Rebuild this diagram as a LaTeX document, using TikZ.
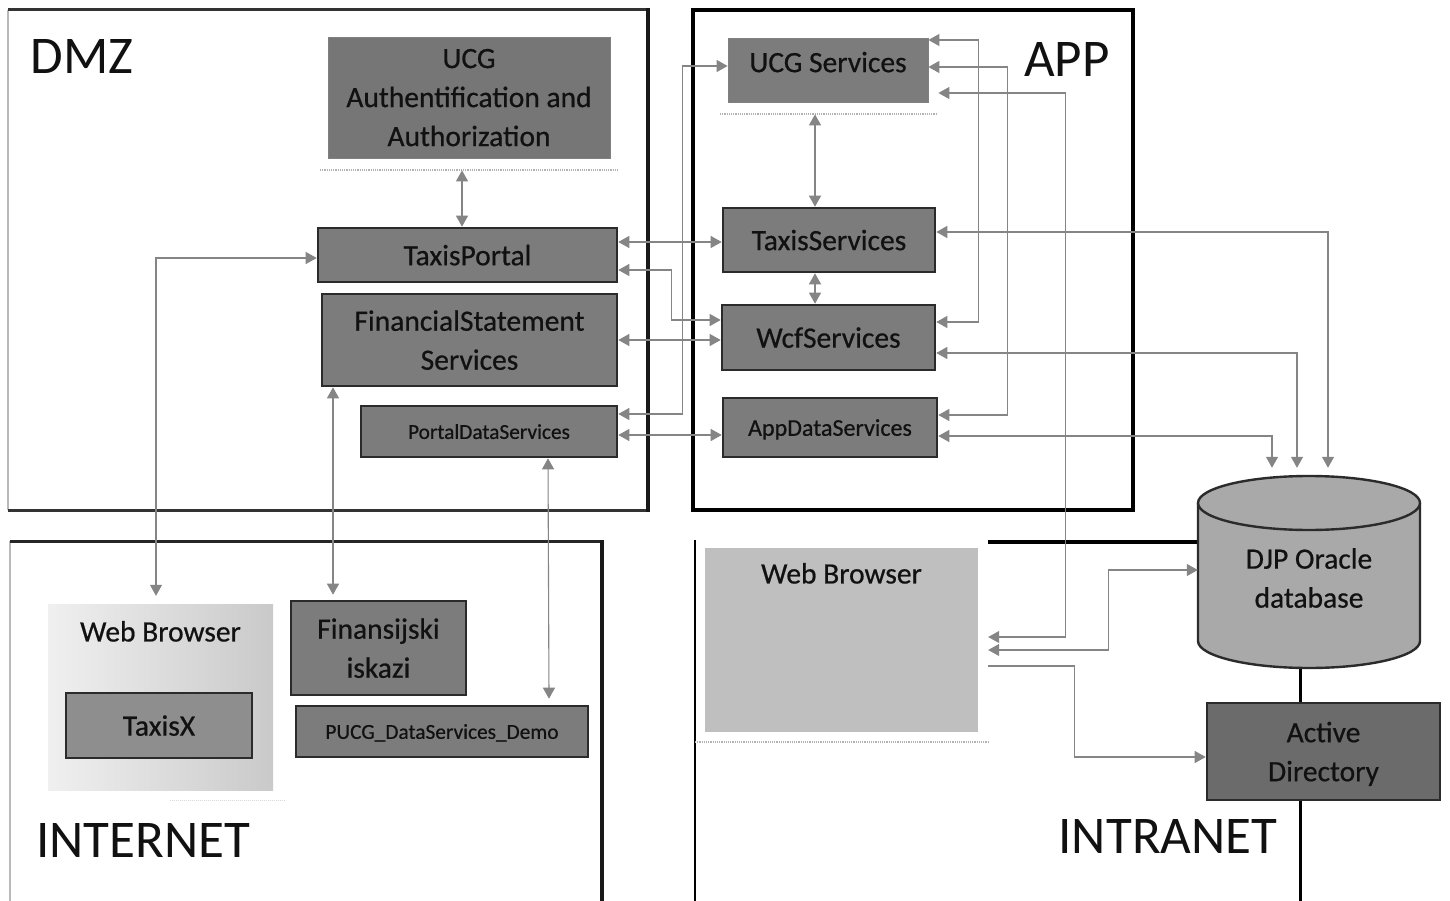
\documentclass[tikz,border=0pt]{standalone}
\usepackage{fontspec}
\setmainfont{Carlito}
\newfontfamily\boxfont{Carlito}[FakeBold=0.6]
\usetikzlibrary{arrows.meta}
\definecolor{boxfill}{HTML}{7C7C7C}
\definecolor{boxline}{HTML}{2B2B2B}
\definecolor{connc}{HTML}{858585}
\definecolor{adfill}{HTML}{6B6B6B}
\definecolor{dbfill}{HTML}{A9A9A9}
\definecolor{wbfill}{HTML}{BFBFBF}
\definecolor{txfill}{HTML}{8E8E8E}
\definecolor{txt}{HTML}{111111}
\begin{document}
\begin{tikzpicture}[x=1pt,y=-1pt,
 box/.style={draw=boxline, line width=2.6pt, fill=boxfill, inner sep=0pt, align=center, text=txt, text depth=0pt, font=\boxfont\fontsize{29.5}{39}\selectfont},
 thinbox/.style={box, line width=0.8pt, draw=boxline!60},
 small/.style={font=\boxfont\fontsize{21.3}{25}\selectfont},
 zone/.style={font=\fontsize{53}{60}\selectfont, text=txt, inner sep=0pt},
 wire/.style={draw=connc, line width=1.1pt},
 both/.style={wire, {Triangle[width=12pt,length=11pt]}-{Triangle[width=12pt,length=11pt]}},
 one/.style={wire, -{Triangle[width=12pt,length=11pt]}},
 sep/.style={draw=gray!60, line width=1.2pt, densely dotted},
 lab/.style={font=\boxfont\fontsize{29.5}{39}\selectfont, text=txt, inner sep=0pt, anchor=north}
]
\useasboundingbox (0,0) rectangle (1450,901);
\fill[white] (0,0) rectangle (1450,901);

% zones
\draw[line width=2pt, gray!55] (8,10) -- (8,510);
\draw[line width=3pt, black!80] (8,10) -- (648,10);
\draw[line width=3pt, black!80] (8,510) -- (648,510);
\draw[line width=3.8pt, black!90] (648,8.5) -- (648,511.5);
\draw[line width=3.8pt, black] (693,10) rectangle (1133,510);
\draw[line width=2pt, gray!55] (10,541) -- (10,901);
\draw[line width=3pt, black!85] (10,541) -- (602,541);
\draw[line width=3.5pt, black!90] (602,539.5) -- (602,901);
\draw[line width=2.8pt, black] (695,540) -- (695,901);
\draw[line width=4pt, black] (988,542) -- (1200,542);
\draw[line width=3pt, black] (1300,668) -- (1300,703);
\draw[line width=3pt, black] (1300,800) -- (1300,901);

\node[zone] (dmzl) at (82,57) {DMZ};
\node[zone] (appl) at (1067,60) {APP};
\node[zone] (inetl) at (143,840) {INTERNET};
\node[zone] (intrl) at (1168,836) {INTRANET};

% separators
\draw[sep] (320,170) -- (618,170);
\draw[sep] (720,114) -- (937,114);
\draw[sep] (695,742) -- (988,742);
\draw[draw=gray!30, line width=1pt, densely dotted] (170,800) -- (285,800);

% nodes
\node[thinbox, fill=boxfill!95!black, minimum width=282pt, minimum height=121pt] (ucga) at (469,97.5) {UCG\\Authentification and\\Authorization};
\node[box, minimum width=299pt, minimum height=54pt] (tp) at (467.5,255) {TaxisPortal};
\node[box, minimum width=295pt, minimum height=92pt] (fss) at (469.5,340) {FinancialStatement\\Services};
\node[box, small, minimum width=256pt, minimum height=51pt] (pds) at (489,431.5) {PortalDataServices};
\node[thinbox, text depth=16pt, minimum width=200pt, minimum height=64pt] (ucgs) at (828,70) {UCG Services};
\node[box, minimum width=212pt, minimum height=64pt] (ts) at (829,240) {TaxisServices};
\node[box, minimum width=213pt, minimum height=65pt] (wcf) at (828.5,337.5) {WcfServices};
\node[box, font=\boxfont\fontsize{24}{28}\selectfont, minimum width=214pt, minimum height=59pt] (ads) at (830,427.5) {AppDataServices};

% database cylinder
\fill[dbfill] (1198,503) rectangle (1420,641);
\fill[dbfill] (1309,641) ellipse [x radius=111pt, y radius=27pt];
\draw[line width=2.4pt, boxline] (1198,503) -- (1198,641) arc[start angle=180, end angle=360, x radius=111pt, y radius=27pt] -- (1420,503);
\draw[line width=2.4pt, boxline, fill=dbfill] (1309,503) ellipse [x radius=111pt, y radius=27pt];
\node[inner sep=0pt, minimum width=222pt, minimum height=192pt,
  label={[font=\boxfont\fontsize{29.5}{39}\selectfont, text=txt, align=center, yshift=-6pt]center:DJP Oracle\\database}] (db) at (1309,572) {};

\node[box, fill=adfill, minimum width=233pt, minimum height=97pt] (ad) at (1323.5,751.5) {Active\\Directory};
\node[fill=wbfill, inner sep=0pt, minimum width=273pt, minimum height=184pt,
  label={[lab, yshift=-15pt]north:Web Browser}] (wbi) at (841.5,640) {};

\node[left color=gray!12, right color=gray!42, inner sep=0pt, minimum width=225pt, minimum height=186pt,
  label={[lab, yshift=-17pt]north:Web Browser}] (wbx) at (160.5,697) {};
\node[box, fill=txfill, minimum width=186pt, minimum height=65pt] (tx) at (159,725.5) {TaxisX};
\node[box, minimum width=175pt, minimum height=94pt] (fin) at (378.5,648) {Finansijski\\iskazi};
\node[box, small, minimum width=292pt, minimum height=51pt] (pucg) at (442,731.5) {PUCG\_DataServices\_Demo};

% connectors
\draw[both] ([xshift=-7pt,yshift=-12pt]ucga.south) -- ([xshift=-5.5pt]tp.north);
\draw[both] ([xshift=-13pt,yshift=-12pt]ucgs.south) -- ([xshift=-14pt]ts.north);
\draw[both] ([xshift=-14pt]ts.south) -- ([xshift=-13.5pt]wcf.north);
\draw[both] ([yshift=13pt]tp.east) -- ([yshift=13pt]tp.east -| ts.west);
\draw[both] ([yshift=-15pt]tp.east) -- ++(53,0) |- ([yshift=17.5pt]wcf.west);
\draw[both] (fss.east) -- (fss.east -| wcf.west);
\draw[both] ([yshift=17.5pt]pds.east) -- ++(64,0) |- ([yshift=4pt]ucgs.west);
\draw[both] ([yshift=-3.5pt]pds.east) -- ([yshift=-3.5pt]pds.east -| ads.west);
\draw[both] ([yshift=30pt]ucgs.east) -- ++(50,0) |- ([yshift=15.5pt]wcf.east);
\draw[both] ([yshift=3pt]ucgs.east) -- ++(79,0) |- ([yshift=12.5pt]ads.east);
\draw[both] ([xshift=10pt,yshift=-23pt]ucgs.east) -- ++(127,0) |- ([xshift=10pt,yshift=3pt]wbi.east);
\draw[both] ([xshift=10pt,yshift=-10pt]wbi.east) -- ++(120,0) |- ([yshift=2pt]db.west);
\draw[one] ([xshift=10pt,yshift=-26pt]wbi.east) -- ++(86,0) |- ([yshift=-5.5pt]ad.west);
\draw[both] ([yshift=8pt]ts.east) -| ([xshift=19pt,yshift=8pt]db.north);
\draw[both] ([yshift=-15.5pt]wcf.east) -| ([xshift=-12pt,yshift=8pt]db.north);
\draw[both] ([yshift=-8.5pt]ads.east) -| ([xshift=-37pt,yshift=8pt]db.north);
\draw[both] ([yshift=-3pt]tp.west) -| ([xshift=-4.5pt,yshift=8pt]wbx.north);
\draw[both] ([xshift=-136.5pt]fss.south) -- ([xshift=-45.5pt,yshift=5pt]fin.north);
\draw[both] ([xshift=59pt]pds.south) -- ([xshift=107pt,yshift=6pt]pucg.north);
\end{tikzpicture}
\end{document}
